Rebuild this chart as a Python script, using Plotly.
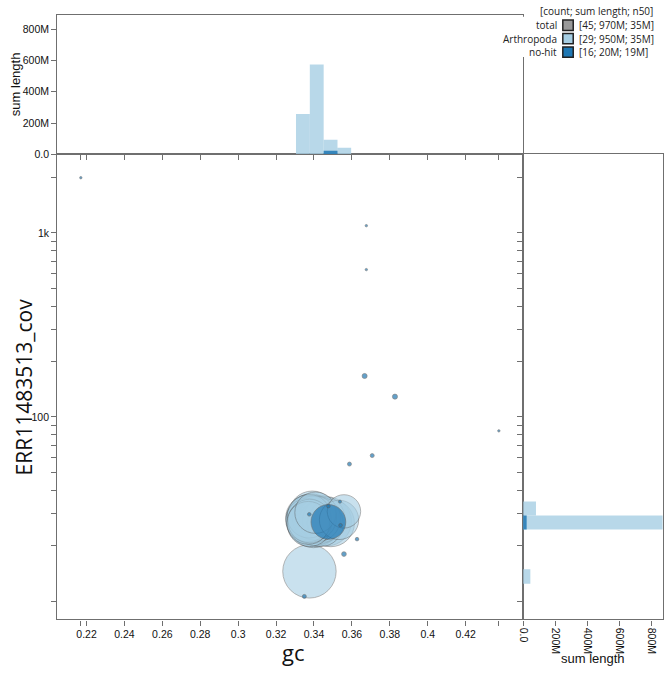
import math
import plotly.graph_objects as go

W, H = 671, 678

# ---------------- data ----------------
# Arthropoda contigs: gc, coverage, length (Mb)
arth_gc = [0.3366, 0.3368, 0.3370, 0.3372, 0.3374, 0.3376, 0.3377,
           0.3381, 0.3384, 0.3386, 0.3389, 0.3391, 0.3394, 0.3397, 0.3399,
           0.3402, 0.3405, 0.3408, 0.3412, 0.3416, 0.3421, 0.3427, 0.3434,
           0.3442, 0.3468, 0.3489, 0.3532, 0.3558, 0.3376]
arth_cov = [27.5, 28.4, 26.6, 27.9, 28.9, 26.1, 27.2,
            27.8, 28.6, 26.9, 27.4, 29.5, 28.1, 26.4, 27.6,
            28.3, 27.0, 30.2, 27.7, 26.7, 28.0, 27.3, 26.3,
            27.9, 27.1, 26.5, 27.6, 30.7, 14.5]
arth_len = [30, 31, 29, 32, 30, 31, 30,
            36, 34, 38, 33, 35, 32, 37, 34,
            31, 36, 27, 33, 35, 32, 34, 33,
            34, 38, 35, 24.4, 17.6, 45]

# no-hit contigs: gc, coverage, length (Mb)
nohit_gc = [0.3476, 0.2170, 0.3676, 0.3676, 0.3667, 0.3827, 0.4375, 0.3707,
            0.3587, 0.3375, 0.3476, 0.3537, 0.3540, 0.3627, 0.3558, 0.3349]
nohit_cov = [26.9, 1995, 1095, 632, 167, 129, 84.1, 61.7,
             55.5, 29.6, 32.8, 34.7, 25.8, 21.7, 18.0, 10.6]
nohit_len = [19, 0.09, 0.09, 0.09, 0.4, 0.4, 0.09, 0.25,
             0.25, 0.2, 0.2, 0.15, 0.2, 0.2, 0.35, 0.25]

# gc histogram (sum length, Mb)
gc_bin_start = [0.3305, 0.3378, 0.3451, 0.3523]
gc_bin_width = 0.0073
arth_gc_hist = [258, 574, 93, 42]
nohit_gc_bin_start = [0.3451]
nohit_gc_hist = [23]

# coverage histogram (sum length, Mb)
cov_bin_lo = [24.5, 29.2, 12.4]
cov_bin_hi = [29.2, 34.7, 14.9]
arth_cov_hist = [868, 80, 45]
nohit_cov_bin_lo = [24.5]
nohit_cov_bin_hi = [29.2]
nohit_cov_hist = [22]

# ticks
x_tick_vals = [0.217, 0.22, 0.24, 0.26, 0.28, 0.30, 0.32, 0.34, 0.36, 0.38, 0.40, 0.42, 0.4375]
x_tick_text = ["", "0.22", "0.24", "0.26", "0.28", "0.3", "0.32", "0.34", "0.36", "0.38", "0.4", "0.42", ""]
y_tick_vals = [10, 20, 30, 40, 50, 60, 70, 80, 90, 100, 200, 300, 400, 500, 600, 700, 800, 900, 1000, 2000]
y_tick_text = ["100" if v == 100 else ("1k" if v == 1000 else "") for v in y_tick_vals]
len_tick_vals = [0, 200, 400, 600, 800]
len_tick_text = ["0.0", "200M", "400M", "600M", "800M"]

legend_title = "[count; sum length; n50]"
legend_names = ["total", "Arthropoda", "no-hit"]
legend_stats = ["[45; 970M; 35M]", "[29; 950M; 35M]", "[16; 20M; 19M]"]
legend_colors = ["#999999", "#a6cee3", "#1f78b4"]

# ---------------- styling / layout helpers ----------------
C_ARTH = "#a6cee3"
C_NOHIT = "#1f78b4"
AXC = "#6f6f6f"
TICKFONT = dict(family="Liberation Sans, Arial, sans-serif", size=10.5, color="#111")
K = 3.98  # px radius per sqrt(Mb)


def px_x(p):
    return p / W


def px_y(p):
    return 1 - p / H


main_x = [px_x(52.7), px_x(522)]
main_y = [px_y(625), px_y(155.7)]
top_y = [px_y(155.7), px_y(15)]
right_x = [px_x(522), px_x(662.7)]

xr = [0.2046, 0.4503]
yr = [0.90, 3.427]

fig = go.Figure()


def order(idx_vals):
    return sorted(range(len(idx_vals)), key=lambda i: -idx_vals[i])


# scatter: Arthropoda then no-hit, big first
for gcs, covs, lens, col, op in [(arth_gc, arth_cov, arth_len, C_ARTH, 0.6),
                                 (nohit_gc, nohit_cov, nohit_len, C_NOHIT, 0.7)]:
    o = order(lens)
    fig.add_trace(go.Scatter(
        x=[gcs[i] for i in o], y=[covs[i] for i in o], mode="markers",
        marker=dict(size=[2 * K * math.sqrt(lens[i]) for i in o], color=col,
                    opacity=op, line=dict(color="#555", width=0.7)),
        xaxis="x", yaxis="y", showlegend=False, hoverinfo="skip"))

# top histogram
fig.add_trace(go.Bar(x=gc_bin_start, y=arth_gc_hist, width=gc_bin_width, offset=0,
                     marker=dict(color=C_ARTH, opacity=0.8, line=dict(width=0)),
                     xaxis="x2", yaxis="y2", showlegend=False, hoverinfo="skip"))
fig.add_trace(go.Bar(x=nohit_gc_bin_start, y=nohit_gc_hist, width=gc_bin_width, offset=0,
                     marker=dict(color=C_NOHIT, opacity=0.85, line=dict(width=0)),
                     xaxis="x2", yaxis="y2", showlegend=False, hoverinfo="skip"))

# right histogram (rectangles on a log coverage axis)
for lo, hi, vals, col, op in [(cov_bin_lo, cov_bin_hi, arth_cov_hist, C_ARTH, 0.8),
                              (nohit_cov_bin_lo, nohit_cov_bin_hi, nohit_cov_hist, C_NOHIT, 0.85)]:
    for a, b, v in zip(lo, hi, vals):
        fig.add_trace(go.Scatter(x=[0, v, v, 0, 0], y=[a, a, b, b, a], mode="lines",
                                 fill="toself", fillcolor=col, opacity=op,
                                 line=dict(width=0), xaxis="x3", yaxis="y3",
                                 showlegend=False, hoverinfo="skip"))

common = dict(showline=True, linecolor=AXC, linewidth=1.3, mirror=True,
              ticks="outside", ticklen=5, tickcolor=AXC, tickwidth=1,
              showgrid=False, zeroline=False, tickfont=TICKFONT)

fig.update_layout(
    width=W, height=H, autosize=False,
    margin=dict(l=0, r=0, t=0, b=0),
    paper_bgcolor="white", plot_bgcolor="white",
    barmode="overlay",
    xaxis=dict(domain=main_x, range=xr, anchor="y", tickmode="array",
               tickvals=x_tick_vals, ticktext=x_tick_text, **common),
    yaxis=dict(domain=main_y, range=yr, type="log", anchor="x", tickmode="array",
               tickvals=y_tick_vals, ticktext=y_tick_text, **common),
    xaxis2=dict(domain=main_x, range=xr, anchor="y2", tickmode="array",
                tickvals=x_tick_vals, showticklabels=False, **common),
    yaxis2=dict(domain=top_y, range=[0, 892], anchor="x2", tickmode="array",
                tickvals=len_tick_vals, ticktext=len_tick_text, **common),
    xaxis3=dict(domain=right_x, range=[0, 868], anchor="y3", tickmode="array",
                tickvals=len_tick_vals, ticktext=len_tick_text, tickangle=90, **common),
    yaxis3=dict(domain=main_y, range=yr, type="log", anchor="x3", tickmode="array",
                tickvals=y_tick_vals, showticklabels=False, **common),
)

TITLE_FONT = "Open Sans, sans-serif"
LBL_FONT = "Liberation Sans, Arial, sans-serif"
ann = [
    dict(text="gc", x=px_x(290), y=px_y(658), font=dict(family=TITLE_FONT, size=22, color="#111")),
    dict(text="ERR11483513_cov", x=px_x(19), y=px_y(390), textangle=-90,
         font=dict(family=TITLE_FONT, size=21, color="#111")),
    dict(text="sum length", x=px_x(10), y=px_y(85), textangle=-90,
         font=dict(family=LBL_FONT, size=13, color="#111")),
    dict(text="sum length", x=px_x(592), y=px_y(664),
         font=dict(family=LBL_FONT, size=13, color="#111")),
    dict(text=legend_title, x=px_x(653.5), y=px_y(11.5), xanchor="right",
         font=dict(family=TITLE_FONT, size=10, color="#222")),
]
shapes = [dict(type="rect", xref="paper", yref="paper", x0=px_x(504), x1=1.0,
               y0=px_y(57.5), y1=px_y(17), fillcolor="white", line=dict(width=0), layer="above")]
row_y = [25.5, 39, 52.5]
for nm, st, col, ry in zip(legend_names, legend_stats, legend_colors, row_y):
    ann.append(dict(text=nm, x=px_x(557.5), y=px_y(ry), xanchor="right",
                    font=dict(family=TITLE_FONT, size=10, color="#222")))
    ann.append(dict(text=st, x=px_x(577), y=px_y(ry), xanchor="left",
                    font=dict(family=TITLE_FONT, size=10, color="#222")))
    shapes.append(dict(type="rect", xref="paper", yref="paper",
                       x0=px_x(562), x1=px_x(572.5), y0=px_y(ry + 5.2), y1=px_y(ry - 5.2),
                       fillcolor=col, line=dict(color="#222", width=1.5), layer="above"))
for a in ann:
    a.setdefault("xref", "paper")
    a.setdefault("yref", "paper")
    a.setdefault("showarrow", False)
    a.setdefault("xanchor", "center")
    a.setdefault("yanchor", "middle")
    a.setdefault("borderpad", 0)
fig.update_layout(annotations=ann, shapes=shapes)

fig.write_html("out.html")
